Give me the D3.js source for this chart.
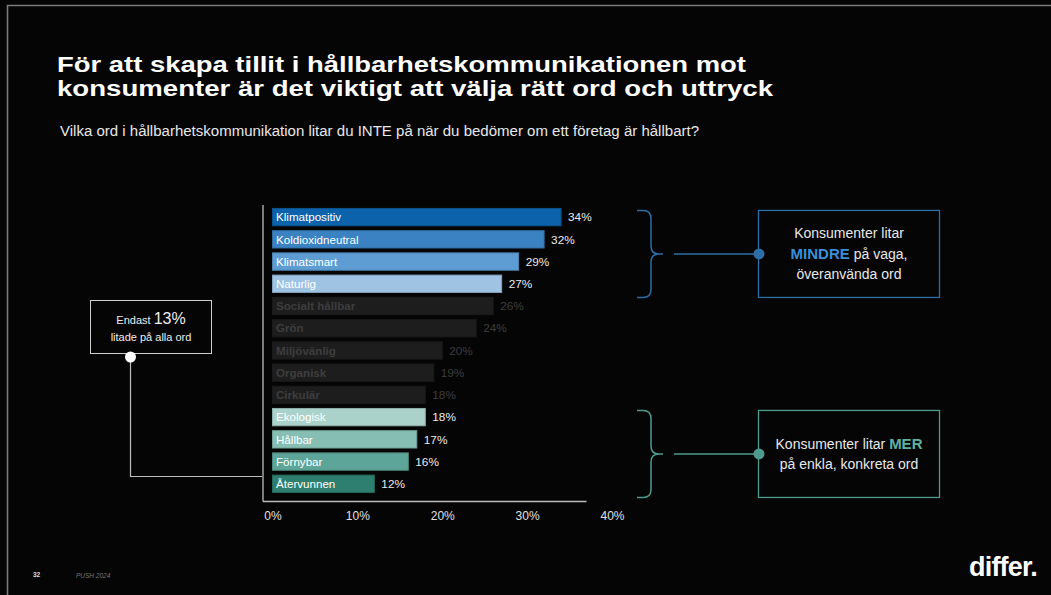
<!DOCTYPE html>
<html>
<head>
<meta charset="utf-8">
<script src="https://cdn.jsdelivr.net/npm/d3@7"></script>
<style>
  html, body { margin: 0; padding: 0; background: #050505; }
  svg { display: block; }
  text { font-family: "Liberation Sans", Arial, sans-serif; }
</style>
</head>
<body>
<svg id="chart" width="1051" height="595"></svg>
<script>
// Words and the share of respondents who do NOT trust them (%)
const categories = [
  "Klimatpositiv", "Koldioxidneutral", "Klimatsmart", "Naturlig",
  "Socialt hållbar", "Grön", "Miljövänlig", "Organisk", "Cirkulär",
  "Ekologisk", "Hållbar", "Förnybar", "Återvunnen"
];
const values = [34, 32, 29, 27, 26, 24, 20, 19, 18, 18, 17, 16, 12];
// Which group each word belongs to: trusted less, neutral, trusted more
const groups = [
  "mindre", "mindre", "mindre", "mindre",
  "neutral", "neutral", "neutral", "neutral", "neutral",
  "mer", "mer", "mer", "mer"
];
const tickValues = [0, 10, 20, 30, 40];
const trustAllShare = 13;

// Bar fills, one per word
const barColors = [
  "#0c62ab", "#3a82c2", "#5d9dd3", "#9ec3e3",
  "#1d1d1d", "#1d1d1d", "#1d1d1d", "#1d1d1d", "#1d1d1d",
  "#aad2cb", "#87beb4", "#5ea599", "#2e7f6f"
];

const svg = d3.select("#chart");
const W = 1051, H = 595;

svg.append("rect").attr("width", W).attr("height", H).attr("fill", "#050505");

// Slide frame (top and left edges)
svg.append("path")
  .attr("d", "M7.5,595 V5.5 H1051")
  .attr("fill", "none").attr("stroke", "#7a7a7a").attr("stroke-width", 1.6);

// Heading
const title = svg.append("g").attr("fill", "#ffffff").attr("font-weight", 700).attr("font-size", 22);
title.append("text").attr("x", 57).attr("y", 72)
  .attr("textLength", 689).attr("lengthAdjust", "spacingAndGlyphs")
  .text("För att skapa tillit i hållbarhetskommunikationen mot");
title.append("text").attr("x", 57).attr("y", 96)
  .attr("textLength", 716).attr("lengthAdjust", "spacingAndGlyphs")
  .text("konsumenter är det viktigt att välja rätt ord och uttryck");

svg.append("text").attr("x", 60).attr("y", 136)
  .attr("fill", "#e8e8e8").attr("font-size", 14)
  .attr("textLength", 639).attr("lengthAdjust", "spacingAndGlyphs")
  .text("Vilka ord i hållbarhetskommunikation litar du INTE på när du bedömer om ett företag är hållbart?");

// Scales
const x = d3.scaleLinear().domain([0, 40]).range([272.5, 612]);
const y = d3.scaleBand().domain(categories).range([206, 494.9])
  .paddingInner(0.22).paddingOuter(0.11);

const data = categories.map((c, i) => ({ cat: c, val: values[i], grp: groups[i], color: barColors[i] }));

// Bars
const bars = svg.append("g");
bars.selectAll("rect").data(data).join("rect")
  .attr("x", x(0))
  .attr("y", d => y(d.cat))
  .attr("width", d => x(d.val) - x(0))
  .attr("height", y.bandwidth())
  .attr("fill", d => d.color)
  .attr("stroke", d => d.grp === "neutral" ? "#1a1a1a" : d3.color(d.color).darker(0.5))
  .attr("stroke-width", 1);

// Word labels inside bars
bars.selectAll("text.name").data(data).join("text")
  .attr("class", "name")
  .attr("x", x(0) + 3.5)
  .attr("y", d => y(d.cat) + y.bandwidth() / 2)
  .attr("dy", "0.36em")
  .attr("font-size", 11.6)
  .attr("fill", d => d.grp === "neutral" ? "#3d3d3d" : "#ffffff")
  .attr("font-weight", d => d.grp === "neutral" ? 700 : 400)
  .text(d => d.cat);

// Value labels
bars.selectAll("text.val").data(data).join("text")
  .attr("class", "val")
  .attr("x", d => x(d.val) + 7)
  .attr("y", d => y(d.cat) + y.bandwidth() / 2)
  .attr("dy", "0.36em")
  .attr("font-size", 11.8)
  .attr("fill", d => d.grp === "neutral" ? "#3d3d3d" : "#eaeaea")
  .text(d => d.val + "%");

// Axes
const axisX = 263, axisY = 501.5;
svg.append("line").attr("x1", axisX).attr("x2", axisX).attr("y1", 205).attr("y2", axisY)
  .attr("stroke", "#bdbdbd").attr("stroke-width", 1.3);
svg.append("line").attr("x1", axisX).attr("x2", x(37)).attr("y1", axisY).attr("y2", axisY)
  .attr("stroke", "#bdbdbd").attr("stroke-width", 1.3);

const xAxis = svg.append("g").attr("transform", `translate(0,${axisY})`)
  .call(d3.axisBottom(x).tickValues(tickValues).tickSize(0).tickPadding(10).tickFormat(d => d + "%"));
xAxis.select(".domain").remove();
xAxis.selectAll("text").attr("fill", "#e0e0e0").attr("font-size", 12)
  .attr("font-family", "Liberation Sans, Arial, sans-serif");

// "Endast 13%" callout on the left
svg.append("rect").attr("x", 90.5).attr("y", 300.5).attr("width", 121).attr("height", 53)
  .attr("fill", "none").attr("stroke", "#cfcfcf").attr("stroke-width", 1);
const endast = svg.append("text").attr("x", 151).attr("y", 324).attr("text-anchor", "middle").attr("fill", "#eeeeee");
endast.append("tspan").attr("font-size", 11).text("Endast ");
endast.append("tspan").attr("font-size", 16).text(trustAllShare + "%");
svg.append("text").attr("x", 151).attr("y", 341).attr("text-anchor", "middle")
  .attr("fill", "#eeeeee").attr("font-size", 11).text("litade på alla ord");
svg.append("path")
  .attr("d", `M130.5,357 V476.5 H${axisX - 1}`)
  .attr("fill", "none").attr("stroke", "#bdbdbd").attr("stroke-width", 1.2);
svg.append("circle").attr("cx", 130.5).attr("cy", 357).attr("r", 5.5).attr("fill", "#ffffff");

// Group braces with explanation boxes
function groupCallout(firstCat, lastCat, color, lines) {
  const top = y(firstCat) + 2, bot = y(lastCat) + y.bandwidth() + 5;
  const mid = (top + bot) / 2;
  const bx = 637, bw = 14, r = 8;
  const brace = `M${bx},${top} H${bx + bw - r} Q${bx + bw},${top} ${bx + bw},${top + r}
    V${mid - r} Q${bx + bw},${mid} ${bx + bw + r},${mid} H${bx + bw + 12}
    M${bx + bw + r},${mid} Q${bx + bw},${mid} ${bx + bw},${mid + r}
    V${bot - r} Q${bx + bw},${bot} ${bx + bw - r},${bot} H${bx}`;
  svg.append("path").attr("d", brace).attr("fill", "none")
    .attr("stroke", color).attr("stroke-width", 1.5);
  svg.append("line").attr("x1", 674).attr("x2", 759).attr("y1", mid).attr("y2", mid)
    .attr("stroke", color).attr("stroke-width", 1.5);
  svg.append("rect").attr("x", 758.5).attr("y", top).attr("width", 181).attr("height", bot - top)
    .attr("fill", "none").attr("stroke", color).attr("stroke-width", 1.3);
  svg.append("circle").attr("cx", 759).attr("cy", mid).attr("r", 5.5).attr("fill", color);
  const lh = 20.5;
  const startY = mid - (lines.length - 1) * lh / 2 + 5;
  lines.forEach((parts, i) => {
    const t = svg.append("text").attr("x", 849).attr("y", startY + i * lh)
      .attr("text-anchor", "middle").attr("font-size", 14).attr("fill", "#e8e8e8");
    parts.forEach(p => {
      const s = t.append("tspan").text(p.t);
      if (p.hl) s.attr("fill", p.hl).attr("font-weight", 700).attr("font-size", 15);
    });
  });
}

groupCallout("Klimatpositiv", "Naturlig", "#2d6ea6", [
  [{ t: "Konsumenter litar" }],
  [{ t: "MINDRE", hl: "#3a8fd8" }, { t: " på vaga," }],
  [{ t: "överanvända ord" }]
]);
groupCallout("Ekologisk", "Återvunnen", "#4f9a8e", [
  [{ t: "Konsumenter litar " }, { t: "MER", hl: "#5fb0a2" }],
  [{ t: "på enkla, konkreta ord" }]
]);

// Footer
svg.append("text").attr("x", 33).attr("y", 577).attr("fill", "#dddddd")
  .attr("font-size", 6.5).attr("font-weight", 700).text("32");
svg.append("text").attr("x", 76).attr("y", 578).attr("fill", "#777777")
  .attr("font-size", 6.5).attr("font-style", "italic").text("PUSH 2024");
svg.append("text").attr("x", 969).attr("y", 576).attr("fill", "#ffffff")
  .attr("font-family", "Lato, 'Open Sans', sans-serif")
  .attr("font-size", 27).attr("font-weight", 700).attr("letter-spacing", -0.8)
  .text("differ.");
</script>
</body>
</html>
